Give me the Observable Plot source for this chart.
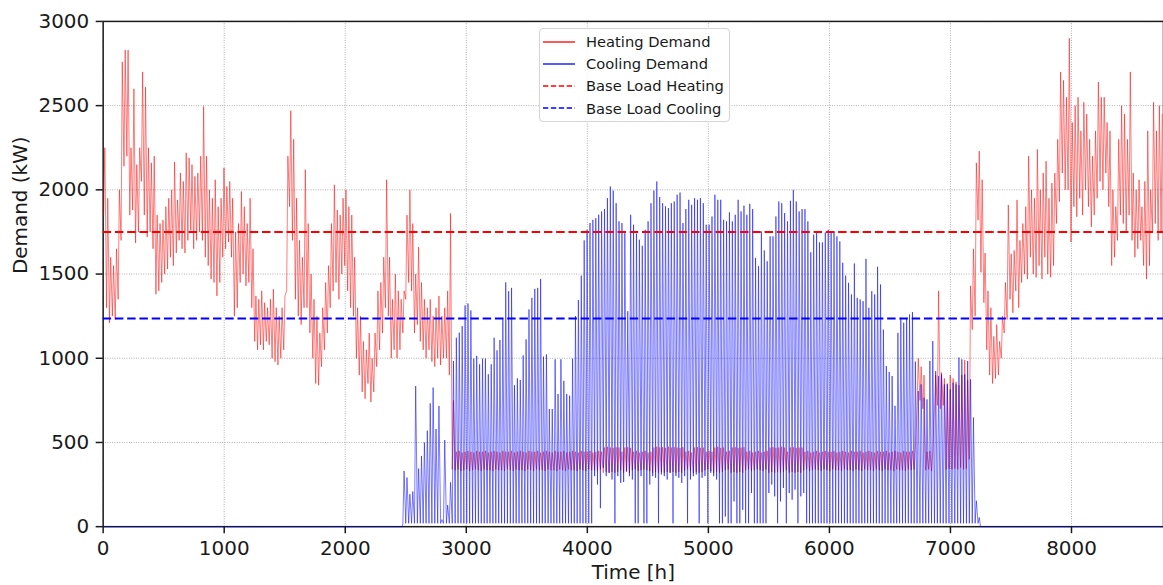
<!DOCTYPE html>
<html>
<head>
<meta charset="utf-8">
<script src="https://cdn.jsdelivr.net/npm/d3@7"></script>
<script src="https://cdn.jsdelivr.net/npm/@observablehq/plot@0.6"></script>
<style>
  html, body { margin: 0; padding: 0; background: #fff; overflow: hidden; }
  #wrap { position: relative; width: 1163px; height: 585px; overflow: hidden; font-family: "DejaVu Sans", sans-serif; }
  #legend { position: absolute; left: 539px; top: 28px; width: 191px; height: 94px;
            border: 1px solid #d4d4d4; border-radius: 4px; background: rgba(255,255,255,0.85);
            font-size: 14.7px; color: #1a1a1a; box-sizing: border-box; }
  .row { position: absolute; left: 0; height: 20px; display: flex; align-items: center; }
  .row svg { margin-left: 3px; margin-right: 11px; }
</style>
</head>
<body>
<div id="wrap"><div id="legend"></div></div>
<script>
// Hourly year of building energy demand, kept as one [low, high] pair per day (kW).
// Heating: days 0-119 (winter / spring)
const heatingSpring = [
  [1850,2250],[1300,1950],[1210,1600],[1250,1550],[1230,1650],[1350,2000],[1700,2760],[2140,2830],[2200,2830],[1850,2250],
  [1880,2600],[1685,2150],[1750,2250],[2050,2700],[1850,2610],[1720,2250],[1750,2160],[1650,2200],[1380,1850],[1400,1800],
  [1450,1820],[1500,1900],[1530,1950],[1600,2000],[1550,2165],[1625,1940],[1700,2100],[1650,2050],[1625,2220],[1700,2190],
  [1760,2150],[1650,2080],[1700,2100],[1750,2200],[1700,2495],[1600,2200],[1550,2000],[1470,1950],[1450,2060],[1370,1900],
  [1450,1950],[1600,2130],[1650,2020],[1690,2050],[1600,1950],[1250,1750],[1300,1800],[1450,1990],[1500,1900],[1430,1800],
  [1450,1950],[1300,1650],[1100,1370],[1050,1350],[1080,1400],[1050,1330],[1100,1300],[1080,1350],[1000,1410],[980,1300],
  [960,1250],[1000,1300],[1050,1370],[1400,2200],[1900,2470],[1700,2300],[1350,1950],[1250,1700],[1200,1600],[1300,2120],
  [1300,1800],[1150,1500],[1000,1350],[850,1250],[840,1150],[950,1300],[1050,1450],[1150,1550],[1300,1800],[1400,2030],
  [1450,1880],[1350,1850],[1500,1950],[1550,2000],[1400,1900],[1300,1850],[1250,1600],[1000,1300],[900,1250],[800,1100],
  [760,1050],[850,1150],[740,1000],[800,1150],[950,1400],[1050,1450],[1150,1600],[1300,2060],[1250,1600],[1000,1350],
  [1050,1500],[1000,1400],[1050,1350],[1150,1400],[1350,1850],[1450,2000],[1400,1800],[1150,1500],[1200,1660],[1100,1450],
  [1050,1350],[1000,1300],[1050,1350],[980,1250],[950,1300],[1000,1370],[960,1250],[1000,1300],[1000,1400],[900,1860]
];
// Heating: days 120-297 (summer base, with a cold spell in autumn)
const heatingSummer = [
  [340,750],[335,445],[340,450],[330,440],[335,445],[340,450],[330,445],[335,440],[340,450],[335,445],
  [330,445],[340,450],[335,440],[335,445],[330,450],[340,445],[335,440],[335,450],[330,445],[340,445],
  [335,450],[330,440],[340,445],[335,450],[335,445],[330,440],[340,450],[335,445],[330,445],[340,450],
  [335,440],[335,445],[330,450],[340,445],[335,440],[335,450],[330,445],[340,445],[335,450],[330,440],
  [340,445],[335,450],[335,445],[330,440],[340,450],[335,445],[330,445],[340,450],[335,440],[335,445],
  [330,450],[340,445],[320,470],[325,475],[320,470],[325,468],[320,472],[325,470],[335,445],[320,470],
  [325,472],[320,468],[335,445],[340,450],[330,440],[335,445],[340,450],[335,440],[330,445],[320,470],
  [325,475],[320,470],[325,472],[320,468],[325,475],[320,470],[325,472],[320,470],[325,468],[320,472],
  [335,445],[340,450],[330,440],[320,470],[325,472],[320,468],[325,470],[335,445],[340,450],[330,445],
  [320,470],[325,475],[320,468],[325,470],[335,445],[340,450],[320,470],[325,472],[320,468],[325,470],
  [320,472],[335,445],[340,450],[330,440],[335,445],[340,450],[335,440],[330,445],[340,450],[320,470],
  [325,472],[320,468],[325,470],[320,475],[325,470],[335,445],[320,470],[325,472],[320,468],[325,470],
  [320,470],[335,445],[340,450],[330,440],[335,445],[340,450],[335,440],[330,445],[340,450],[335,445],
  [330,445],[340,450],[335,440],[335,445],[330,450],[340,445],[335,440],[335,450],[330,445],[340,445],
  [335,450],[330,440],[340,445],[335,450],[335,445],[330,440],[340,450],[335,445],[330,445],[340,450],
  [335,440],[335,445],[330,450],[340,445],[335,440],[335,450],[330,445],[340,445],[335,450],[340,460],
  [720,1000],[750,950],[700,900],[335,445],[340,450],[330,445],[700,900],[720,1400],[700,915],[720,880],
  [340,850],[345,900],[340,880],[345,860],[340,840],[350,900],[340,990],[345,870]
];
// Heating: days 298-364 (autumn / winter)
const heatingWinter = [
  [400,1430],[1170,1650],[1250,2160],[1820,2230],[1510,2060],[1330,1625],[1050,1400],[900,1300],[850,1130],[880,1200],
  [900,1100],[1000,1250],[1150,1450],[1230,1910],[1350,1620],[1270,1640],[1400,1940],[1300,1700],[1450,1800],[1500,1900],
  [1470,2200],[1600,2000],[1500,1950],[1480,2240],[1550,2000],[1470,2100],[1600,2170],[1500,1950],[1480,2040],[1550,2100],
  [1800,2300],[1930,2700],[2100,2650],[2000,2550],[2000,2900],[1690,2400],[1900,2500],[1840,2550],[1950,2350],[1850,2520],
  [2000,2450],[1900,2300],[1780,2200],[1850,2350],[1950,2640],[2050,2550],[2000,2550],[2100,2400],[1900,2350],[1550,2000],
  [1600,1900],[1700,2300],[1850,2500],[1800,2450],[1750,2300],[1850,2700],[1700,2100],[1600,2000],[1650,2060],[1700,1900],
  [1550,2050],[1470,2350],[1550,2000],[1750,2520],[1800,2350],[1700,2500],[1750,2450]
];

// Cooling: first and last day with demand, daily peaks and night troughs (kW)
const coolingFirstDay = 103;
const coolingLastDay = 301;
const coolingPeaks = [
  331,292,193,209,835,345,420,500,570,732,826,580,717,42,514,128,263,984,1122,1152,
  1191,1314,1325,1284,998,1014,964,998,998,905,964,1122,1047,1108,1240,1451,1398,1418,840,881,
  871,1017,1112,1290,1359,1412,1418,1471,1010,1023,699,699,994,788,994,866,788,778,998,1251,
  1346,1491,1700,1763,1803,1822,1832,1852,1872,1886,1951,2020,1996,1921,1813,1803,1743,1279,1852,1793,
  1740,1704,1668,1763,1813,1921,1996,2050,1957,1921,1902,1892,1921,1931,1971,1984,1803,1886,1941,1911,
  1951,1941,1951,1921,1793,1793,1842,1971,1941,1941,1822,1813,1866,1813,1852,1941,1872,1906,1852,1917,
  1886,1596,1547,1753,1640,1576,1724,1724,1842,1931,1921,1862,1813,1935,2000,1931,1872,1886,1886,1813,
  1629,1734,1743,1688,1688,1747,1763,1753,1753,1724,1694,1567,1491,1448,1379,1563,1359,1349,1339,1590,
  1300,1398,1379,1543,1438,1170,954,919,895,718,1151,1240,1211,1240,1260,1274,980,805,845,766,
  756,984,1102,924,894,904,845,845,816,855,845,1004,994,904,984,875,648,154,55
];
const coolingTroughs = [
  20,20,20,20,20,20,20,20,20,20, 20,20,20,20,20,20,20,20,20,20,
  20,20,20,20,20,20,20,20,20,20, 20,20,20,20,20,20,20,20,20,20,
  20,20,20,20,20,20,20,20,20,20, 20,20,20,20,20,20,20,20,20,20,
  20,20,20,20,20,20,300,250,110,350, 300,320,280,20,300,260,265,330,300,280,
  20,20,300,20,20,250,300,290,20,310, 300,280,320,20,300,290,260,300,20,280,
  300,310,20,290,300,20,320,300,280,20, 20,60,20,20,150,20,20,100,20,20,
  200,20,20,20,20,20,200,250,180,20, 150,230,20,200,160,220,20,180,200,20,
  20,20,20,20,20,20,20,20,20,20, 20,20,20,20,20,20,20,20,20,20,
  20,20,20,20,20,20,20,20,20,20, 20,20,20,20,20,20,20,20,20,20,
  20,20,20,20,20,20,20,20,20,20, 20,20,20,20,20,20,20,20,20
];

const baseLoadHeating = 1750;
const baseLoadCooling = 1236;
const hoursPerYear = 8760;
const xTicks = [0, 1000, 2000, 3000, 4000, 5000, 6000, 7000, 8000];
const yTicks = [0, 500, 1000, 1500, 2000, 2500, 3000];

// Expand the daily pairs into a time series (trough in the early hours, peak in the afternoon)
const heatingDays = heatingSpring.concat(heatingSummer, heatingWinter);
const heating = [];
heatingDays.forEach(([lo, hi], d) => {
  heating.push({hour: d * 24 + 4, kW: lo});
  heating.push({hour: d * 24 + 14, kW: hi});
});

const cooling = [{hour: 0, kW: 0}, {hour: coolingFirstDay * 24, kW: 0}];
coolingPeaks.forEach((peak, i) => {
  const d = coolingFirstDay + i;
  cooling.push({hour: d * 24 + 4, kW: coolingTroughs[i]});
  cooling.push({hour: d * 24 + 14, kW: peak});
});
cooling.push({hour: (coolingLastDay + 1) * 24, kW: 0});
cooling.push({hour: hoursPerYear, kW: 0});

const ink = "#1a1a1a";
const chart = Plot.plot({
  width: 1167,
  height: 585,
  marginTop: 21,
  marginRight: 0,
  marginBottom: 57,
  marginLeft: 103,
  style: {fontFamily: "DejaVu Sans, sans-serif", fontSize: "20px", color: ink, background: "#fff", overflow: "visible"},
  x: {domain: [0, hoursPerYear]},
  y: {domain: [0, 3000]},
  marks: [
    Plot.gridX(xTicks, {stroke: "#7a7a7a", strokeOpacity: 0.9, strokeWidth: 0.8, strokeDasharray: "0.8,1.6"}),
    Plot.gridY(yTicks, {stroke: "#7a7a7a", strokeOpacity: 0.9, strokeWidth: 0.8, strokeDasharray: "0.8,1.6"}),
    Plot.frame({stroke: ink, strokeWidth: 1.5}),
    Plot.line(heating, {x: "hour", y: "kW", stroke: "red", strokeWidth: 0.6, strokeOpacity: 0.85}),
    Plot.line(cooling, {x: "hour", y: "kW", stroke: "blue", strokeWidth: 0.6, strokeOpacity: 0.88}),
    Plot.ruleY([baseLoadHeating], {stroke: "red", strokeWidth: 2, strokeDasharray: "8.5,3.8"}),
    Plot.ruleY([baseLoadCooling], {stroke: "blue", strokeWidth: 2, strokeDasharray: "8.5,3.8"}),
    Plot.axisX(xTicks, {tickSize: 7, tickPadding: 7, strokeWidth: 1.5, fontSize: 20, label: null, tickFormat: d => String(d)}),
    Plot.axisY(yTicks, {tickSize: 7, tickPadding: 7, strokeWidth: 1.5, fontSize: 20, label: null, tickFormat: d => String(d)}),
    Plot.text(["Time [h]"], {frameAnchor: "bottom", dy: 38, lineAnchor: "top", fontSize: 20, fill: ink}),
    Plot.text(["Demand (kW)"], {frameAnchor: "left", dx: -83, rotate: -90, fontSize: 20, fill: ink})
  ]
});
const wrap = document.getElementById("wrap");
wrap.insertBefore(chart, wrap.firstChild);

// Legend inside the plot area
const legendItems = [
  {label: "Heating Demand", color: "red", dash: null, width: 1.3},
  {label: "Cooling Demand", color: "blue", dash: null, width: 1.3},
  {label: "Base Load Heating", color: "red", dash: "5.3,2.6", width: 1.4},
  {label: "Base Load Cooling", color: "blue", dash: "5.3,2.6", width: 1.4}
];
const legend = d3.select("#legend");
legendItems.forEach((item, i) => {
  const row = legend.append("div").attr("class", "row").style("top", (2.5 + i * 22.2) + "px");
  const s = row.append("svg").attr("width", 32).attr("height", 10);
  s.append("line").attr("x1", 0).attr("x2", 32).attr("y1", 5).attr("y2", 5)
    .attr("stroke", item.color).attr("stroke-width", item.width)
    .attr("stroke-dasharray", item.dash);
  row.append("span").text(item.label);
});
</script>
</body>
</html>
